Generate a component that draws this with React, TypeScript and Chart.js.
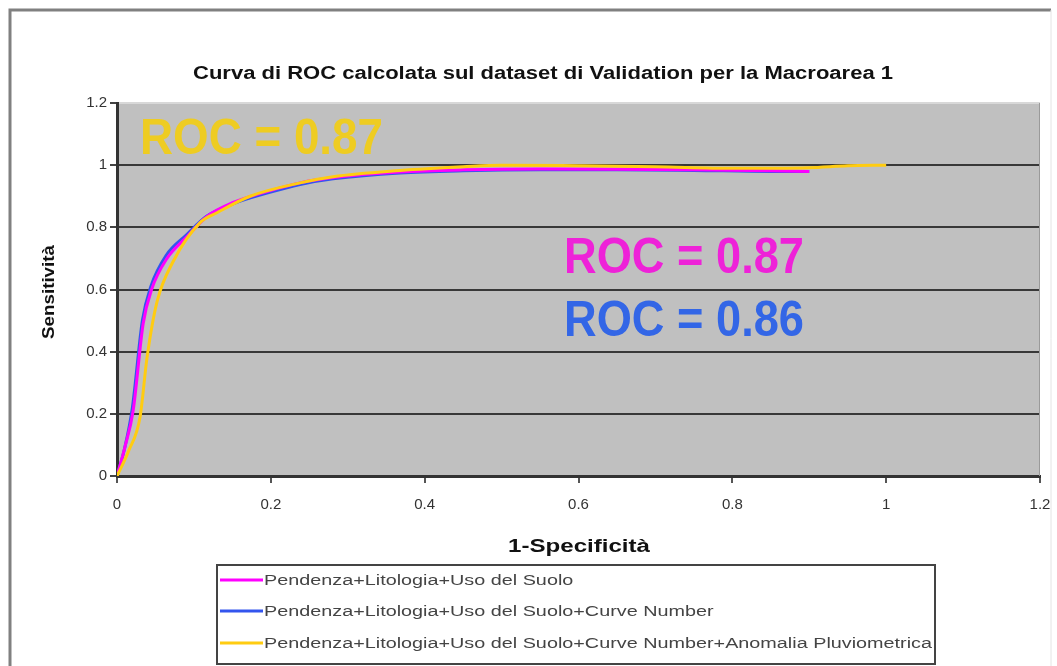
import React, { useEffect, useRef } from 'react';
import { Chart, registerables } from 'chart.js';

Chart.register(...registerables);

const TITLE = 'Curva di ROC calcolata sul dataset di Validation per la Macroarea 1';
const X_TITLE = '1-Specificità';
const Y_TITLE = 'Sensitività';

const SERIES_LABELS = [
  'Pendenza+Litologia+Uso del Suolo',
  'Pendenza+Litologia+Uso del Suolo+Curve Number',
  'Pendenza+Litologia+Uso del Suolo+Curve Number+Anomalia Pluviometrica',
];
const SERIES_COLORS = ['#FF00FF', '#3355EE', '#FFCC11'];

const ROC_LABELS = ['ROC = 0.87', 'ROC = 0.86', 'ROC = 0.87'];

const X_TICKS = [0, 0.2, 0.4, 0.6, 0.8, 1, 1.2];
const Y_TICKS = [0, 0.2, 0.4, 0.6, 0.8, 1, 1.2];

// Series 1: Pendenza+Litologia+Uso del Suolo (magenta)
const magentaX = [0, 0.01, 0.021, 0.034, 0.045, 0.065, 0.091, 0.117, 0.151, 0.195, 0.238, 0.281, 0.368, 0.45, 0.55, 0.65, 0.75, 0.85, 0.9];
const magentaY = [0, 0.09, 0.21, 0.49, 0.6, 0.7, 0.77, 0.835, 0.88, 0.915, 0.943, 0.96, 0.978, 0.985, 0.988, 0.987, 0.985, 0.982, 0.98];

// Series 2: ...+Curve Number (blue)
const blueX = [0, 0.01, 0.02, 0.033, 0.044, 0.064, 0.09, 0.116, 0.15, 0.195, 0.238, 0.281, 0.368, 0.45, 0.55, 0.65, 0.75, 0.85, 0.9];
const blueY = [0, 0.09, 0.22, 0.5, 0.61, 0.71, 0.775, 0.835, 0.875, 0.91, 0.938, 0.956, 0.975, 0.982, 0.985, 0.985, 0.983, 0.98, 0.98];

// Series 3: ...+Anomalia Pluviometrica (yellow)
const yellowX = [0, 0.015, 0.03, 0.039, 0.052, 0.073, 0.108, 0.13, 0.173, 0.238, 0.281, 0.368, 0.45, 0.5, 0.6, 0.7, 0.8, 0.9, 0.95, 1.0];
const yellowY = [0, 0.08, 0.19, 0.38, 0.56, 0.69, 0.815, 0.847, 0.9, 0.943, 0.963, 0.983, 0.995, 1.0, 0.998, 0.995, 0.99, 0.992, 0.998, 1.0];

const toPoints = (xs: number[], ys: number[]) => xs.map((x, i) => ({ x, y: ys[i] }));

const FONT = '"Liberation Sans", Arial, sans-serif';

function fitText(
  ctx: CanvasRenderingContext2D,
  text: string,
  x1: number,
  x2: number,
  yMid: number,
  capH: number,
  color: string,
  bold: boolean
) {
  const size = capH / 0.716;
  ctx.save();
  ctx.font = `${bold ? 'bold ' : ''}${size}px ${FONT}`;
  const w = ctx.measureText(text).width;
  const sx = (x2 - x1) / w;
  ctx.translate(x1, yMid);
  ctx.scale(sx, 1);
  ctx.fillStyle = color;
  ctx.textAlign = 'left';
  ctx.textBaseline = 'alphabetic';
  ctx.fillText(text, 0, capH / 2);
  ctx.restore();
}

const decorPlugin = {
  id: 'decor',
  beforeDraw(chart: any) {
    const { ctx, chartArea: a, width, height } = chart;
    ctx.save();
    ctx.fillStyle = '#ffffff';
    ctx.fillRect(0, 0, width, height);
    ctx.fillStyle = '#C0C0C0';
    ctx.fillRect(a.left, a.top, a.right - a.left, a.bottom - a.top);
    // outer frame
    ctx.strokeStyle = '#808080';
    ctx.lineWidth = 3;
    ctx.beginPath();
    ctx.moveTo(10, height + 5);
    ctx.lineTo(10, 10);
    ctx.lineTo(1051, 10);
    ctx.stroke();
    ctx.strokeStyle = '#e4e4e4';
    ctx.lineWidth = 1;
    ctx.beginPath();
    ctx.moveTo(1051, 10);
    ctx.lineTo(1051, height + 5);
    ctx.stroke();
    ctx.restore();
  },
  beforeDatasetsDraw(chart: any) {
    const { ctx, chartArea: a } = chart;
    ctx.save();
    ctx.strokeStyle = '#9a9a9a';
    ctx.lineWidth = 1;
    ctx.beginPath();
    ctx.moveTo(a.right - 0.5, a.top);
    ctx.lineTo(a.right - 0.5, a.bottom);
    ctx.stroke();
    ctx.restore();
  },
  afterDraw(chart: any) {
    const { ctx } = chart;
    // title
    fitText(ctx, TITLE, 193, 893, 72, 13, '#111111', true);
    // axis titles
    fitText(ctx, X_TITLE, 508, 650, 545, 13, '#111111', true);
    ctx.save();
    ctx.translate(48, 292);
    ctx.rotate(-Math.PI / 2);
    fitText(ctx, Y_TITLE, -47, 47, 0, 12, '#111111', true);
    ctx.restore();
    // ROC annotations
    fitText(ctx, ROC_LABELS[2], 140, 383, 136, 36, '#EECC22', true);
    fitText(ctx, ROC_LABELS[0], 564, 804, 255, 36, '#EE22D8', true);
    fitText(ctx, ROC_LABELS[1], 564, 804, 318, 36, '#3366E6', true);
    // legend
    ctx.save();
    ctx.fillStyle = '#ffffff';
    ctx.fillRect(217, 565, 718, 99);
    ctx.strokeStyle = '#444444';
    ctx.lineWidth = 2;
    ctx.strokeRect(217, 565, 718, 99);
    const rows = [580, 611, 643];
    ctx.font = `13px ${FONT}`;
    const wLong = ctx.measureText(SERIES_LABELS[2]).width;
    const sx = 668 / wLong;
    SERIES_LABELS.forEach((lab, i) => {
      ctx.strokeStyle = SERIES_COLORS[i];
      ctx.lineWidth = 3;
      ctx.beginPath();
      ctx.moveTo(220, rows[i]);
      ctx.lineTo(263, rows[i]);
      ctx.stroke();
      ctx.save();
      ctx.translate(264, rows[i]);
      ctx.scale(sx, 1.1);
      ctx.fillStyle = '#444444';
      ctx.textBaseline = 'middle';
      ctx.textAlign = 'left';
      ctx.font = `13px ${FONT}`;
      ctx.fillText(lab, 0, 1);
      ctx.restore();
    });
    ctx.restore();
  },
};

export default function App() {
  const ref = useRef<HTMLCanvasElement | null>(null);

  useEffect(() => {
    if (!ref.current) return;
    const fmt = (v: any) => String(Math.round(Number(v) * 10) / 10);
    const chart = new Chart(ref.current, {
      type: 'line',
      data: {
        datasets: [
          {
            label: SERIES_LABELS[0],
            data: toPoints(magentaX, magentaY),
            borderColor: SERIES_COLORS[0],
            borderWidth: 3,
            pointRadius: 0,
            cubicInterpolationMode: 'monotone',
            order: 1,
          },
          {
            label: SERIES_LABELS[1],
            data: toPoints(blueX, blueY),
            borderColor: SERIES_COLORS[1],
            borderWidth: 3,
            pointRadius: 0,
            cubicInterpolationMode: 'monotone',
            order: 2,
          },
          {
            label: SERIES_LABELS[2],
            data: toPoints(yellowX, yellowY),
            borderColor: SERIES_COLORS[2],
            borderWidth: 3,
            pointRadius: 0,
            cubicInterpolationMode: 'monotone',
            order: 0,
          },
        ],
      },
      options: {
        responsive: false,
        maintainAspectRatio: false,
        animation: false,
        devicePixelRatio: 1,
        layout: { padding: { left: 0, top: 103, right: 0, bottom: 0 } },
        plugins: {
          legend: { display: false },
          title: { display: false },
          tooltip: { enabled: false },
        },
        scales: {
          x: {
            type: 'linear',
            min: X_TICKS[0],
            max: X_TICKS[X_TICKS.length - 1],
            afterBuildTicks: (s: any) => {
              s.ticks = X_TICKS.map((v) => ({ value: v }));
            },
            afterFit: (s: any) => {
              s.height = 190;
              s.paddingRight = 17;
              s.paddingLeft = 0;
            },
            ticks: {
              color: '#333333',
              font: { family: FONT, size: 15 },
              padding: 13,
              callback: fmt,
              maxRotation: 0,
              autoSkip: false,
            },
            grid: {
              drawOnChartArea: false,
              drawTicks: true,
              tickLength: 7,
              tickColor: '#555555',
              lineWidth: 2,
            },
            border: { display: true, color: '#333333', width: 3 },
          },
          y: {
            type: 'linear',
            min: Y_TICKS[0],
            max: Y_TICKS[Y_TICKS.length - 1],
            afterBuildTicks: (s: any) => {
              s.ticks = Y_TICKS.map((v) => ({ value: v }));
            },
            afterFit: (s: any) => {
              s.width = 117;
              s.paddingTop = 0;
              s.paddingBottom = 0;
            },
            ticks: {
              color: '#333333',
              font: { family: FONT, size: 15 },
              padding: 3,
              callback: fmt,
              autoSkip: false,
            },
            grid: {
              drawTicks: true,
              tickLength: 7,
              tickColor: '#444444',
              color: (c: any) => (c.tick && c.tick.value > 1.1 ? '#d8d8d8' : '#383838'),
              lineWidth: 2,
            },
            border: { display: true, color: '#333333', width: 3 },
          },
        },
      },
      plugins: [decorPlugin],
    } as any);
    return () => chart.destroy();
  }, []);

  return (
    <div style={{ position: 'absolute', left: 0, top: 0, width: 1057, height: 666, background: '#fff' }}>
      <canvas ref={ref} width={1057} height={666} style={{ display: 'block', width: 1057, height: 666 }} />
    </div>
  );
}
